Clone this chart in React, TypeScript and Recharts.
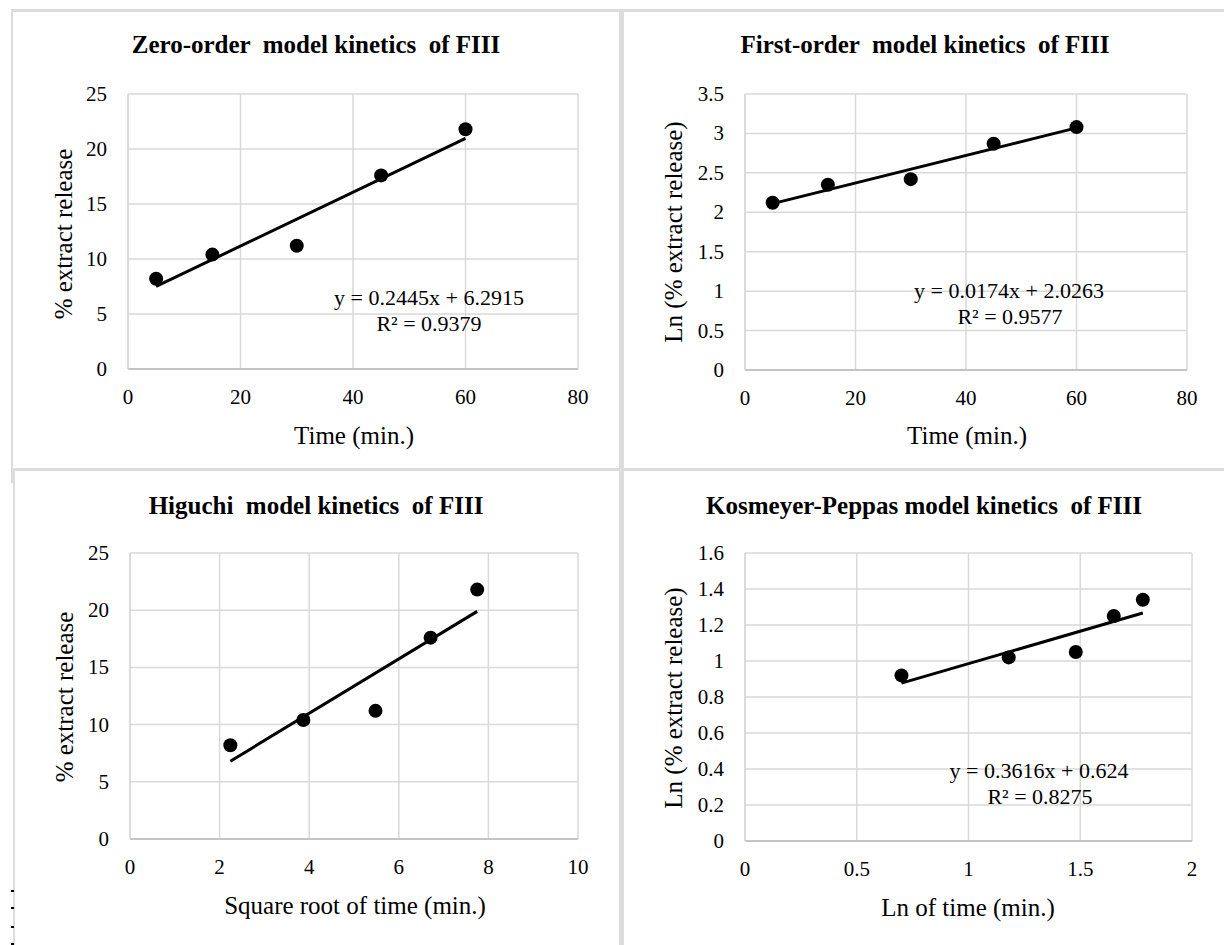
import React from "react";
import { ScatterChart, Scatter, XAxis, YAxis, CartesianGrid } from "recharts";

// measured release data for formulation FIII
const times = [5, 15, 30, 45, 60];
const releasePct = [8.2, 10.4, 11.2, 17.6, 21.8];
const lnRelease = [2.12, 2.35, 2.42, 2.87, 3.08];
const sqrtTime = [2.24, 3.87, 5.48, 6.71, 7.75];
const logTime = [0.7, 1.18, 1.48, 1.65, 1.78];
const logRelease = [0.92, 1.02, 1.05, 1.25, 1.34];

// trendline end points (x, y) as drawn
const zeroTrendX = [5, 60];
const zeroTrendY = [7.51, 20.96];
const firstTrendX = [5, 60];
const firstTrendY = [2.11, 3.07];
const higuchiTrendX = [2.24, 7.75];
const higuchiTrendY = [6.8, 19.9];
const peppasTrendX = [0.7, 1.78];
const peppasTrendY = [0.877, 1.267];

const timeTicks = [0, 20, 40, 60, 80];
const sqrtTicks = [0, 2, 4, 6, 8, 10];
const logTimeTicks = [0, 0.5, 1, 1.5, 2];
const pctTicks = [0, 5, 10, 15, 20, 25];
const lnTicks = [0, 0.5, 1, 1.5, 2, 2.5, 3, 3.5];
const logRelTicks = [0, 0.2, 0.4, 0.6, 0.8, 1, 1.2, 1.4, 1.6];

const FONT = "'Liberation Serif', 'Times New Roman', serif";
const GRID = "#d9d9d9";
const Y_W = 60;
const X_H = 40;

const zip = (xs: number[], ys: number[]) => xs.map((x, i) => ({ x, y: ys[i] }));

type Box = { x: number; y: number; w: number; h: number };
type Plot = { l: number; r: number; t: number; b: number };

const XTick = (p: any) => (
  <text x={p.x} y={p.y + 27} textAnchor="middle" fontFamily={FONT} fontSize={21} fill="#000" style={{ fontFamily: FONT }}>
    {p.payload.value}
  </text>
);

const YTick = (p: any) => (
  <text x={p.x - 13} y={p.y + 7} textAnchor="end" fontFamily={FONT} fontSize={21} fill="#000" style={{ fontFamily: FONT }}>
    {p.payload.value}
  </text>
);

interface PanelProps {
  box: Box;
  plot: Plot;
  xTicks: number[];
  yTicks: number[];
  points: { x: number; y: number }[];
  trend: { x: number; y: number }[];
}

function Panel({ box, plot, xTicks, yTicks, points, trend }: PanelProps) {
  const margin = {
    left: plot.l - box.x - Y_W,
    right: box.x + box.w - plot.r,
    top: plot.t - box.y,
    bottom: box.y + box.h - plot.b - X_H,
  };
  return (
    <div style={{ position: "absolute", left: box.x, top: box.y }}>
      <ScatterChart width={box.w} height={box.h} margin={margin}>
        <CartesianGrid stroke={GRID} strokeWidth={1.5} />
        <XAxis
          type="number"
          dataKey="x"
          domain={[xTicks[0], xTicks[xTicks.length - 1]]}
          ticks={xTicks}
          height={X_H}
          tick={<XTick />}
          tickLine={false}
          axisLine={{ stroke: "#c4c4c4", strokeWidth: 2 }}
          interval={0}
        />
        <YAxis
          type="number"
          dataKey="y"
          domain={[yTicks[0], yTicks[yTicks.length - 1]]}
          ticks={yTicks}
          width={Y_W}
          tick={<YTick />}
          tickLine={false}
          axisLine={{ stroke: GRID, strokeWidth: 1.5 }}
          interval={0}
        />
        <Scatter
          data={trend}
          line={{ stroke: "#000", strokeWidth: 3 }}
          shape={() => <g />}
          isAnimationActive={false}
        />
        <Scatter
          data={points}
          fill="#000"
          shape={(p: any) => <circle cx={p.cx} cy={p.cy} r={7} fill="#000" />}
          isAnimationActive={false}
        />
      </ScatterChart>
    </div>
  );
}

function Txt({ x, y, size, bold, rotate, children }: any) {
  return (
    <div
      style={{
        position: "absolute",
        left: x,
        top: y,
        transform: `translate(-50%, -50%)${rotate ? " rotate(-90deg)" : ""}`,
        fontFamily: FONT,
        fontSize: size,
        fontWeight: bold ? "bold" : "normal",
        lineHeight: 1,
        whiteSpace: "pre",
        color: "#000",
      }}
    >
      {children}
    </div>
  );
}

const line = (l: number, t: number, w: number, h: number, c = "#dcdcdc") => (
  <div style={{ position: "absolute", left: l, top: t, width: w, height: h, background: c }} />
);

export default function App() {
  return (
    <div
      style={{
        position: "absolute",
        left: 0,
        top: 0,
        width: 1224,
        height: 945,
        background: "#fff",
        overflow: "hidden",
        fontFamily: FONT,
      }}
    >
      <Panel
        box={{ x: 0, y: 0, w: 618, h: 467 }}
        plot={{ l: 128, r: 578, t: 94, b: 369 }}
        xTicks={timeTicks}
        yTicks={pctTicks}
        points={zip(times, releasePct)}
        trend={zip(zeroTrendX, zeroTrendY)}
      />
      <Panel
        box={{ x: 624, y: 0, w: 600, h: 467 }}
        plot={{ l: 745, r: 1187, t: 94, b: 370 }}
        xTicks={timeTicks}
        yTicks={lnTicks}
        points={zip(times, lnRelease)}
        trend={zip(firstTrendX, firstTrendY)}
      />
      <Panel
        box={{ x: 0, y: 470, w: 618, h: 475 }}
        plot={{ l: 130, r: 578, t: 553, b: 839 }}
        xTicks={sqrtTicks}
        yTicks={pctTicks}
        points={zip(sqrtTime, releasePct)}
        trend={zip(higuchiTrendX, higuchiTrendY)}
      />
      <Panel
        box={{ x: 624, y: 470, w: 600, h: 475 }}
        plot={{ l: 745, r: 1192, t: 553, b: 841 }}
        xTicks={logTimeTicks}
        yTicks={logRelTicks}
        points={zip(logTime, logRelease)}
        trend={zip(peppasTrendX, peppasTrendY)}
      />

      <Txt x={316} y={44} size={25} bold>{"Zero-order  model kinetics  of FIII"}</Txt>
      <Txt x={925} y={44} size={25} bold>{"First-order  model kinetics  of FIII"}</Txt>
      <Txt x={316} y={505} size={25} bold>{"Higuchi  model kinetics  of FIII"}</Txt>
      <Txt x={924} y={505} size={25} bold>{"Kosmeyer-Peppas model kinetics  of FIII"}</Txt>

      <Txt x={63} y={234} size={25} rotate>% extract release</Txt>
      <Txt x={673} y={232} size={25} rotate>Ln (% extract release)</Txt>
      <Txt x={64} y={697} size={25} rotate>% extract release</Txt>
      <Txt x={673} y={698} size={25} rotate>Ln (% extract release)</Txt>

      <Txt x={354} y={435} size={25}>Time (min.)</Txt>
      <Txt x={967} y={435} size={25}>Time (min.)</Txt>
      <Txt x={355} y={905} size={25}>Square root of time (min.)</Txt>
      <Txt x={968} y={907} size={25}>Ln of time (min.)</Txt>

      <Txt x={429} y={298} size={22}>y = 0.2445x + 6.2915</Txt>
      <Txt x={429} y={324} size={22}>R² = 0.9379</Txt>
      <Txt x={1009} y={291} size={22}>y = 0.0174x + 2.0263</Txt>
      <Txt x={1010} y={317} size={22}>R² = 0.9577</Txt>
      <Txt x={1039} y={771} size={22}>y = 0.3616x + 0.624</Txt>
      <Txt x={1040} y={797} size={22}>R² = 0.8275</Txt>

      {line(11, 9, 1213, 2.5)}
      {line(11, 9, 2, 474)}
      {line(619, 9, 5, 936)}
      {line(13, 468, 1211, 2.5)}
      {line(13, 468, 2, 477)}
      {line(11, 890, 3, 1.5, "#000")}
      {line(11, 907, 3, 1.5, "#000")}
      {line(11, 926, 3, 1.5, "#000")}
      {line(11, 943, 3, 1.5, "#000")}
    </div>
  );
}
